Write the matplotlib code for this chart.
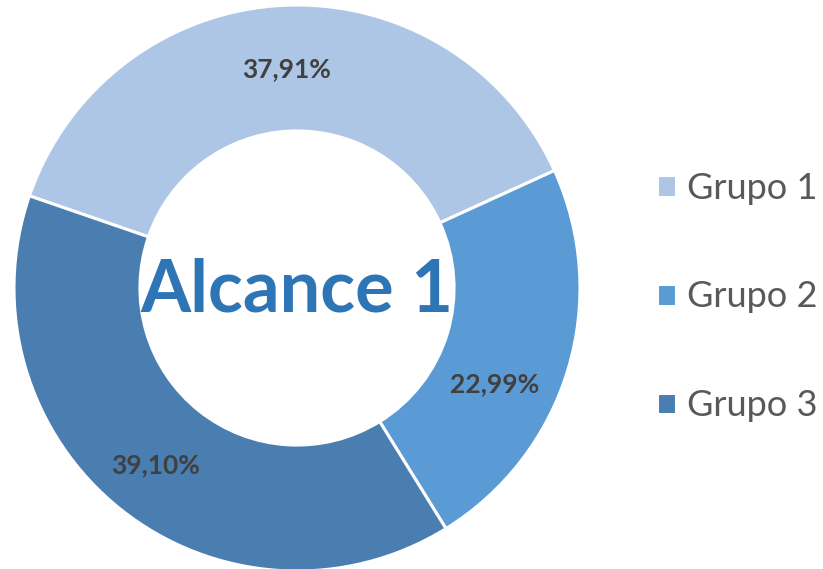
import matplotlib
matplotlib.use("Agg")
import matplotlib.pyplot as plt
import numpy as np

categories = ["Grupo 1", "Grupo 2", "Grupo 3"]
values = [37.91, 22.99, 39.10]
labels_pct = ["37,91%", "22,99%", "39,10%"]
colors = ["#AEC6E6", "#5B9BD5", "#4A7DB0"]
center_title = "Alcance 1"

plt.rcParams['font.family'] = ['Lato', 'DejaVu Sans']

W, H = 823, 569
fig = plt.figure(figsize=(W/100, H/100), dpi=100)
cx, cy_top, R = 297, 288, 283
ax = fig.add_axes([(cx-R)/W, (H-cy_top-R)/H, 2*R/W, 2*R/H])
wedges, _ = ax.pie(values, colors=colors, startangle=161, counterclock=False,
                   radius=1.0, wedgeprops=dict(width=0.445, edgecolor="white", linewidth=2.2))
ax.set_xlim(-1, 1)
ax.set_ylim(-1, 1)
ax.set_aspect("equal")
ax.axis("off")

# labels inside the ring
offsets = [0, -9, 0]
radii = [0.775, 0.775, 0.80]
for w, lab, off, r in zip(wedges, labels_pct, offsets, radii):
    ang = np.deg2rad((w.theta1 + w.theta2) / 2 + off)
    ax.text(r*np.cos(ang), r*np.sin(ang), lab, ha="center", va="center",
            fontsize=19, fontweight="bold", color="#404040")

ax.text(0, -0.01, center_title, ha="center", va="center", fontsize=52,
        fontweight="bold", color="#2E75B6")

leg = fig.legend(wedges, categories, loc="center left",
                 bbox_to_anchor=(624/W, 1-297/H), frameon=False,
                 fontsize=26, handlelength=0.55, handleheight=0.55,
                 handletextpad=0.3, labelspacing=2.1, labelcolor="#595959")

fig.savefig("out.png", dpi=100, facecolor="white")
